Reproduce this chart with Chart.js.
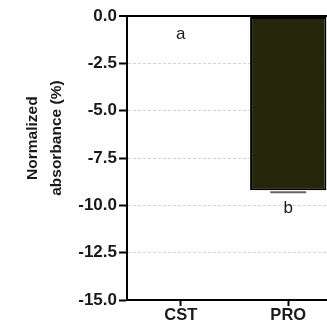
<!DOCTYPE html>
<html>
<head>
<meta charset="utf-8">
<script src="https://cdn.jsdelivr.net/npm/chart.js@4/dist/chart.umd.min.js"></script>
<style>
  html, body { margin: 0; padding: 0; background: #fff; overflow: hidden; }
  #wrap { width: 345px; height: 329px; }
</style>
</head>
<body>
<div id="wrap"><canvas id="absChart" width="345" height="329"></canvas></div>
<script>
// data
var groups = ['CST', 'PRO'];
var absorbance = [0, -9.2];
var errors = [0, 0.05];
var letters = ['a', 'b'];
var yTicks = [0, -2.5, -5, -7.5, -10, -12.5, -15];
var yTitle = ['Normalized', 'absorbance (%)'];

const FONT = 'Arial, "Liberation Sans", sans-serif';

// two line y title, drawn a bit above the middle like the original
const yTitlePlugin = {
    id: 'yTitlePlugin',
    afterDraw(chart) {
        const ctx = chart.ctx;
        const cy = chart.chartArea.top + (chart.chartArea.bottom - chart.chartArea.top) * 0.43;
        ctx.save();
        ctx.font = 'bold 15.5px ' + FONT;
        ctx.fillStyle = '#1a1a1a';
        ctx.textAlign = 'center';
        ctx.textBaseline = 'middle';
        ctx.translate(33, cy);
        ctx.rotate(-Math.PI / 2);
        ctx.fillText(yTitle[0], 0, 0);
        ctx.fillText(yTitle[1], 0, 24);
        ctx.restore();
    }
};

// error caps + significance letters
const markPlugin = {
    id: 'markPlugin',
    afterDatasetsDraw(chart) {
        const ctx = chart.ctx;
        const meta = chart.getDatasetMeta(0);
        const y = chart.scales.y;
        ctx.save();
        meta.data.forEach((bar, i) => {
            if (errors[i] > 0) {
                const ye = y.getPixelForValue(absorbance[i] - errors[i]);
                ctx.strokeStyle = '#666';
                ctx.lineWidth = 2;
                ctx.beginPath();
                ctx.moveTo(bar.x - 18, ye + 1);
                ctx.lineTo(bar.x + 18, ye + 1);
                ctx.stroke();
            }
            ctx.font = '17px ' + FONT;
            ctx.fillStyle = '#1a1a1a';
            ctx.textAlign = 'center';
            ctx.textBaseline = 'middle';
            ctx.fillText(letters[i], bar.x, y.getPixelForValue(absorbance[i]) + 18);
        });
        ctx.restore();
    }
};

const ctx = document.getElementById('absChart').getContext('2d');
const config = {
    type: 'bar',
    data: {
        labels: groups,
        datasets: [{
            label: 'Normalized absorbance',
            data: absorbance,
            backgroundColor: '#26260a',
            borderColor: '#000',
            borderWidth: 2,
            borderSkipped: false,
            categoryPercentage: 1,
            barPercentage: 0.71
        }]
    },
    options: {
        responsive: false,
        animation: false,
        layout: { padding: { top: 16, right: 3, left: 0, bottom: 0 } },
        plugins: {
            legend: { display: false },
            tooltip: { enabled: false }
        },
        scales: {
            x: {
                afterFit: (s) => { s.height = 29; },
                grid: {
                    offset: false,
                    drawOnChartArea: false,
                    tickColor: '#000',
                    tickWidth: 2,
                    tickLength: 6
                },
                border: { color: '#000', width: 2 },
                ticks: {
                    color: '#1a1a1a',
                    padding: 0,
                    font: { family: FONT, size: 16.5, weight: 'bold' }
                }
            },
            y: {
                min: -15,
                max: 0,
                afterFit: (s) => { s.width = 127; },
                afterBuildTicks: (s) => { s.ticks = yTicks.map(v => ({ value: v })); },
                grid: {
                    color: (c) => c.tick && c.tick.value === 0 ? '#000' : (c.tick && c.tick.value === -15 ? 'rgba(0,0,0,0)' : '#d4d4e4'),
                    lineWidth: (c) => c.tick && c.tick.value === 0 ? 2 : 1,
                    tickColor: '#000',
                    tickWidth: 2,
                    tickLength: 8
                },
                border: {
                    color: '#000',
                    width: 2,
                    dash: (c) => c.tick && c.tick.value === 0 ? [] : [3, 2]
                },
                ticks: {
                    color: '#1a1a1a',
                    padding: 2,
                    font: { family: FONT, size: 17, weight: 'bold' },
                    callback: (v) => Number(v).toFixed(1)
                }
            }
        }
    },
    plugins: [yTitlePlugin, markPlugin]
};
const absChart = new Chart(ctx, config);
</script>
</body>
</html>
